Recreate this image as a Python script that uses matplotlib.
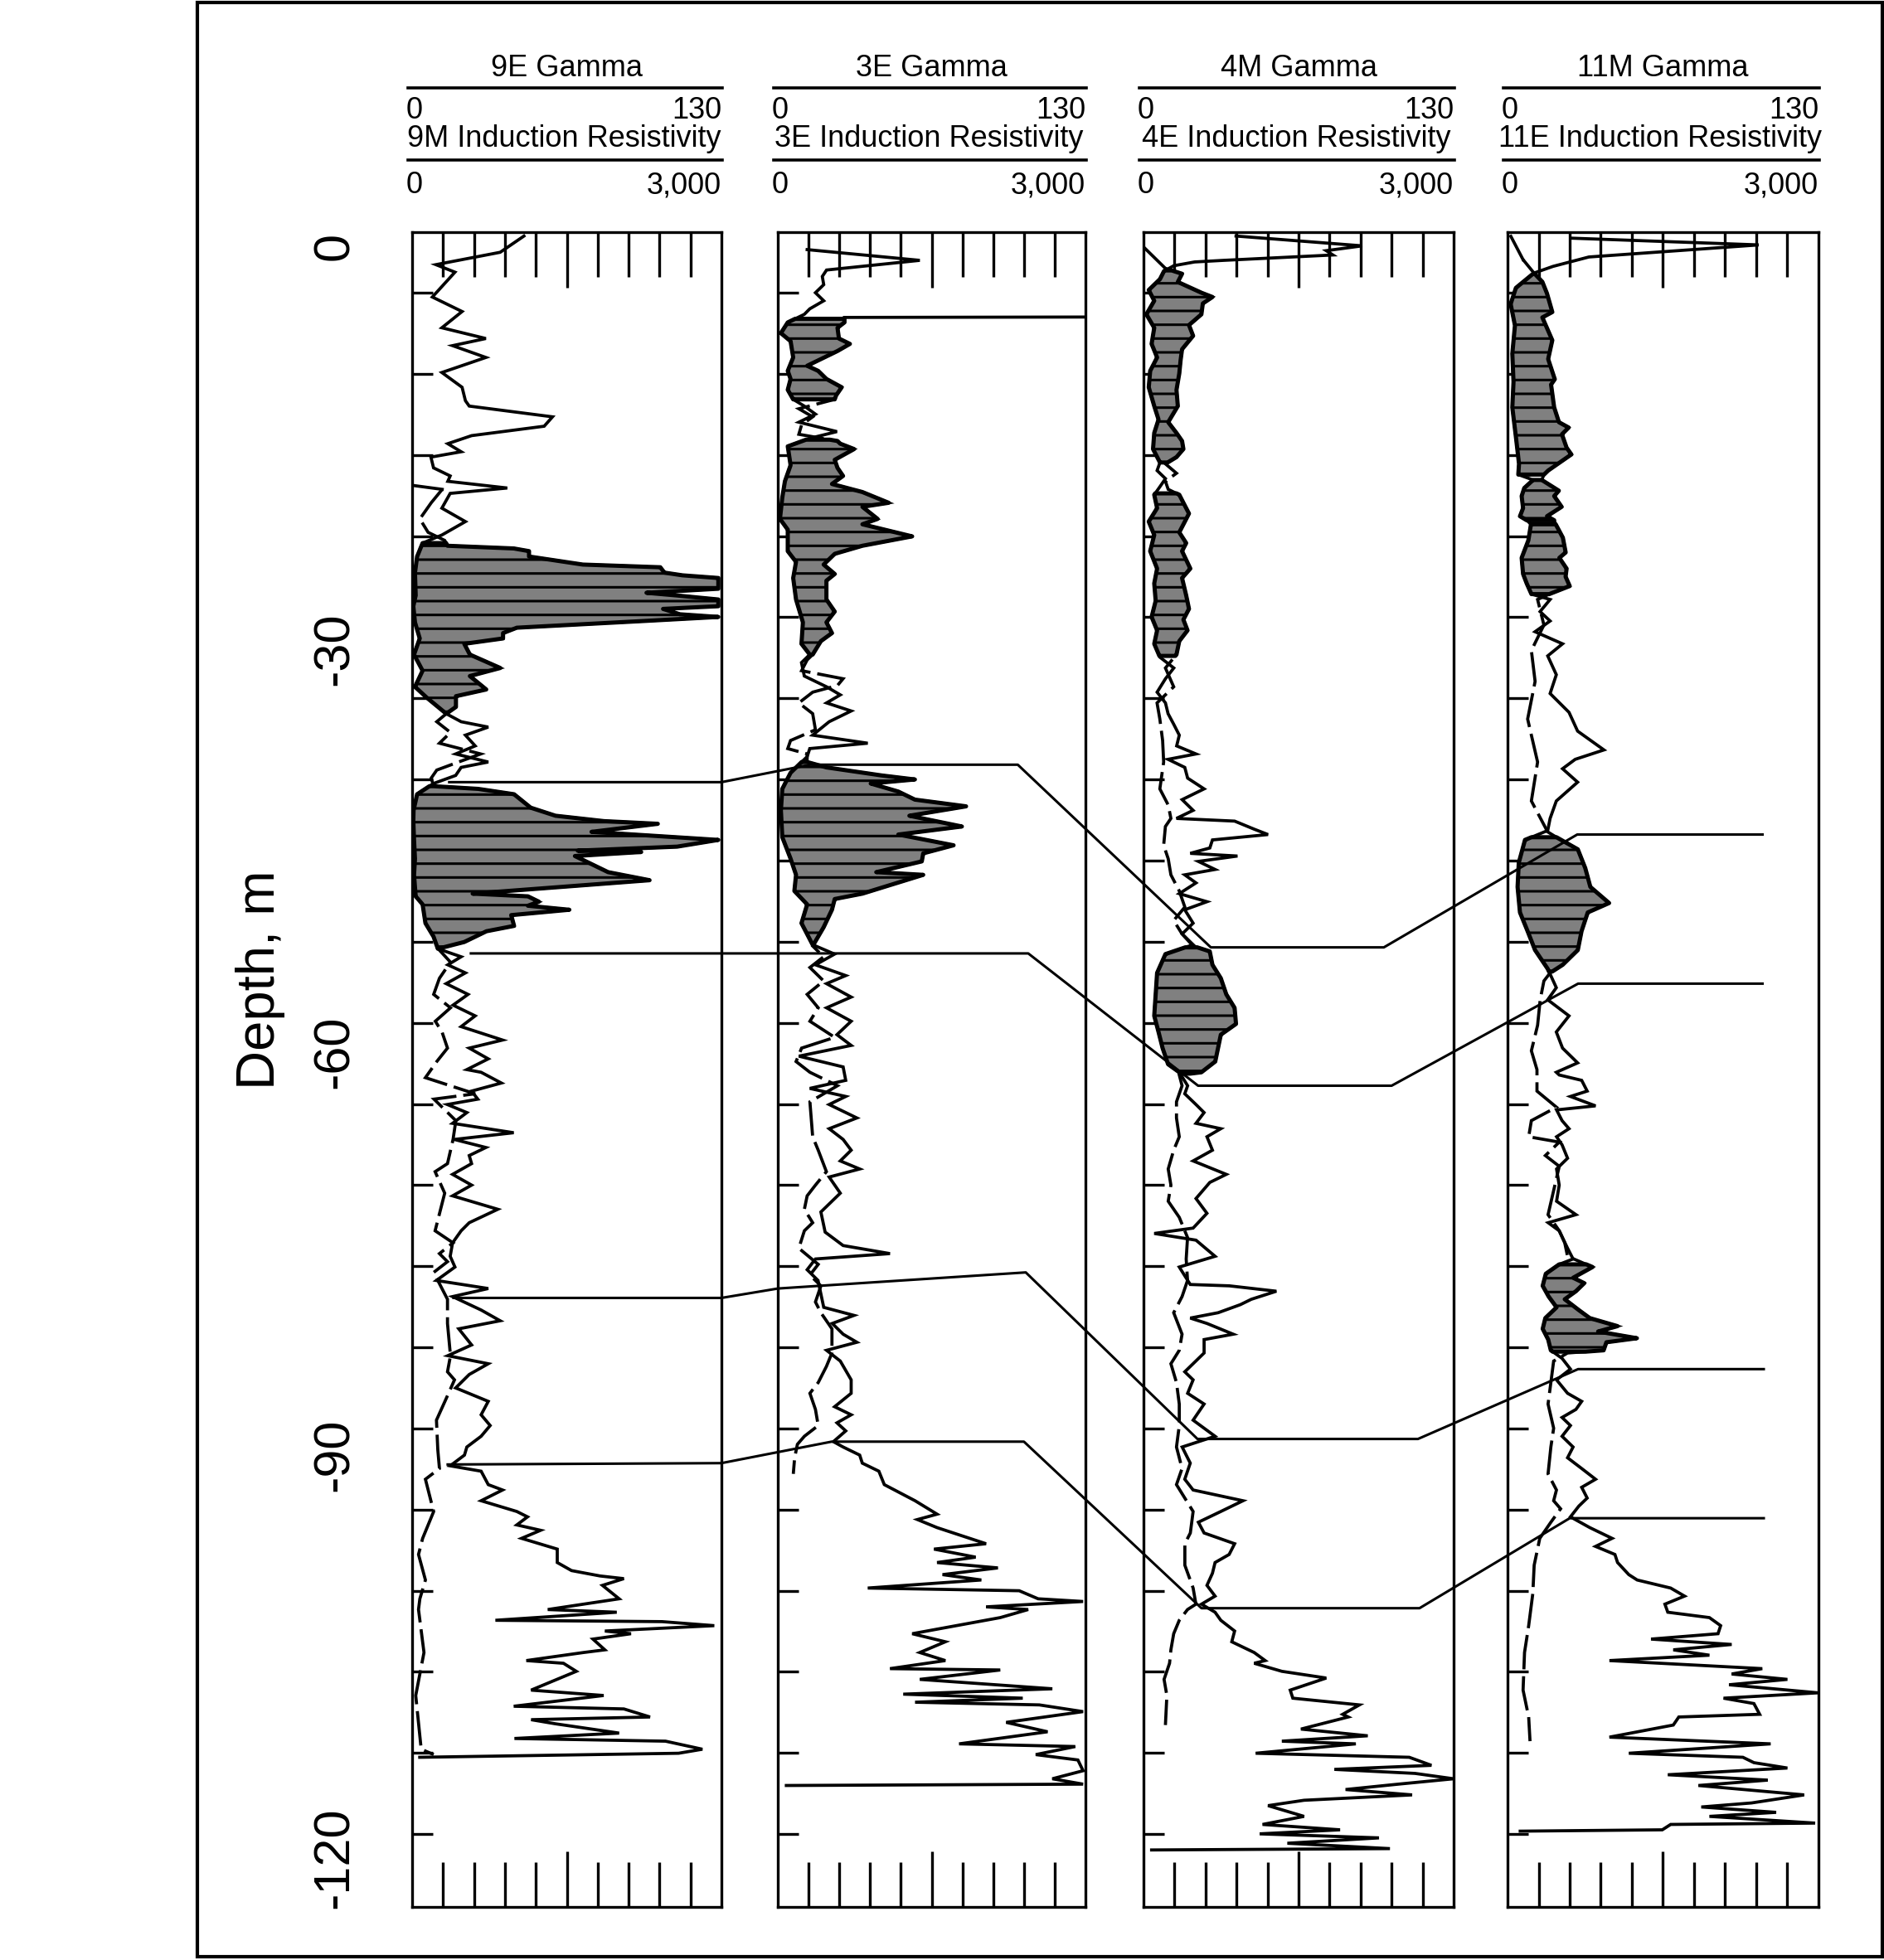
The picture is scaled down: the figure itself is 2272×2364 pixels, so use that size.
import numpy as np
import matplotlib
matplotlib.use('Agg')
import matplotlib.pyplot as plt
from matplotlib.lines import Line2D
from matplotlib.patches import Rectangle
from matplotlib.transforms import blended_transform_factory

plt.rcParams['font.family'] = ['Liberation Sans', 'DejaVu Sans']
plt.rcParams['hatch.linewidth'] = 2.2
plt.rcParams['lines.scale_dashes'] = False

# well names and log scales
gamma_wells = ['9E', '3E', '4M', '11M']
res_wells = ['9M', '3E', '4E', '11E']
gamma_max = 130      # API
res_max = 3000       # ohm-m
depth_labels = [0, -30, -60, -90, -120]

# (depth m, gamma API)
p1_gamma = [(0.76, 47), (-0.45, 37), (-1.37, 10), (-1.93, 18), (-3.78, 8.5), (-4.86, 21), (-6.07, 12.5),
            (-6.87, 31), (-7.4, 17), (-8.28, 31), (-9.4, 12.5), (-10.5, 21), (-11.5, 22.4), (-11.9, 24),
            (-12.7, 59), (-13.4, 55.5), (-14.1, 25), (-14.7, 15), (-15.3, 20.6), (-15.7, 7.9), (-16.5, 9),
            (-17.1, 16), (-17.5, 15), (-18.0, 40), (-18.4, 16), (-19.5, 12.5), (-20.5, 22.4), (-21.5, 12.5),
            (-22.1, 4.4), (-23.1, 2.1), (-24.3, 1.2), (-26.0, 1.5), (-26.8, 0.5), (-28.0, 1.2), (-29.2, 3.2),
            (-30.4, 0.8), (-31.6, 4.4), (-32.8, 1.2), (-33.6, 6.1), (-34.2, 10.2), (-34.8, 14.3), (-35.4, 20.6),
            (-35.8, 32), (-36.4, 22.4), (-37.2, 26.5), (-37.8, 18.3), (-38.4, 32), (-38.8, 20.6), (-39.4, 18.3),
            (-40.0, 9), (-40.8, 2.1), (-42.0, 0.6), (-42.8, 0.5), (-44.2, 0.8), (-45.6, 1.2), (-46.8, 0.8),
            (-48.4, 1.5), (-49.0, 4.4), (-50.4, 5.6), (-51.4, 9), (-52.3, 10.8), (-52.9, 20.6), (-53.5, 15),
            (-54.1, 22.4), (-54.9, 14.3), (-55.7, 23.5), (-56.5, 17.2), (-57.3, 26.5), (-58.1, 20.6), (-59.1, 38),
            (-59.7, 24), (-60.5, 32), (-61.3, 23), (-61.5, 29), (-62.3, 37.5), (-62.9, 25), (-63.5, 27.6),
            (-63.9, 14.8), (-64.5, 23), (-65.3, 17), (-66.0, 42.7), (-66.5, 17.7), (-67.1, 31), (-67.7, 24),
            (-68.3, 25), (-69.1, 17), (-69.9, 25), (-70.7, 17), (-71.7, 36), (-72.7, 24), (-73.3, 20.6),
            (-74.2, 17), (-75.2, 16), (-76.0, 18), (-77.0, 10.2), (-77.6, 32), (-78.2, 17), (-79.2, 29),
            (-80.0, 37), (-80.6, 19.6), (-81.8, 25), (-82.6, 15), (-83.2, 32), (-84.0, 24), (-85.0, 18.3),
            (-86.0, 32), (-87.0, 29), (-87.8, 32.8), (-88.6, 29), (-89.4, 23), (-90.0, 22), (-90.8, 16),
            (-91.2, 29), (-92.2, 32), (-92.6, 38), (-93.4, 29), (-94.2, 44), (-94.6, 48.5), (-95.2, 44),
            (-95.6, 54), (-96.2, 46), (-97.0, 61), (-98.0, 61), (-98.6, 67), (-99.0, 79), (-99.2, 89),
            (-99.7, 80), (-100.7, 87), (-101.5, 57), (-101.7, 86), (-102.3, 35), (-102.4, 105), (-102.7, 127),
            (-103.1, 81), (-103.3, 92), (-103.7, 76), (-104.5, 81), (-104.7, 72), (-105.3, 48), (-105.5, 63.6),
            (-106.1, 69), (-107.5, 50), (-107.9, 80.5), (-108.7, 42.7), (-108.9, 89), (-109.5, 100),
            (-109.7, 50), (-110.0, 60), (-110.7, 87), (-111.1, 43), (-111.3, 106.5), (-111.9, 122),
            (-112.2, 112), (-112.5, 3.2)]

# (depth m, resistivity ohm-m)
p1_res = [(-17.8, 0), (-18.1, 292), (-19.1, 185), (-20.3, 75), (-21.3, 155), (-21.9, 316), (-22.3, 343),
          (-22.5, 986), (-22.7, 1134), (-23.1, 1134), (-23.7, 1656), (-23.9, 2407), (-24.3, 2447), (-24.5, 2622),
          (-24.7, 2970), (-25.5, 2970), (-25.8, 2273), (-26.0, 2568), (-26.3, 2970), (-26.8, 2970), (-27.0, 2434),
          (-27.4, 2597), (-27.6, 2970), (-27.9, 2249), (-28.4, 1016), (-28.8, 882), (-29.2, 882), (-29.6, 506),
          (-30.4, 560), (-31.4, 855), (-32.0, 560), (-33.0, 719), (-33.5, 425), (-34.3, 425), (-34.8, 332),
          (-35.4, 239), (-36.2, 372), (-37.0, 265), (-37.8, 665), (-38.4, 450), (-39.0, 239), (-39.6, 185),
          (-40.2, 209), (-40.4, 641), (-40.8, 989), (-41.8, 1150), (-42.4, 1391), (-42.8, 1860), (-43.0, 2383),
          (-43.6, 1740), (-44.2, 2970), (-44.7, 2571), (-45.0, 1606), (-45.1, 2222), (-45.4, 1579), (-46.6, 1901),
          (-47.2, 2303), (-48.2, 587), (-48.4, 1123), (-48.8, 1230), (-49.1, 1123), (-49.4, 1525), (-49.8, 961),
          (-50.6, 989), (-51.0, 721), (-51.8, 506), (-52.3, 252), (-53.3, 372), (-54.5, 265), (-55.7, 209),
          (-56.7, 372), (-57.7, 225), (-58.5, 290), (-59.7, 343), (-60.7, 239), (-61.9, 129), (-63.1, 611),
          (-63.5, 212), (-65.1, 424), (-66.5, 397), (-68.3, 343), (-68.9, 223), (-70.5, 316), (-73.3, 223),
          (-74.2, 397), (-75.0, 265), (-75.6, 343), (-76.4, 209), (-78.4, 343), (-80.2, 343), (-82.6, 372),
          (-83.8, 343), (-84.4, 411), (-85.8, 330), (-87.4, 236), (-89.6, 249), (-91.0, 265), (-91.8, 129),
          (-93.4, 182), (-94.2, 209), (-96.2, 102), (-97.4, 62), (-99.3, 129), (-100.7, 75), (-101.5, 62),
          (-104.7, 115), (-106.3, 75), (-107.9, 35), (-111.9, 88), (-112.3, 209)]

p2_gamma = [(-0.25, 12.4), (-1.05, 60), (-1.77, 20.6), (-2.25, 18.8), (-2.86, 19.4), (-3.46, 15.9), (-4.06, 19.4),
            (-4.66, 13.5), (-5.07, 11.2), (-5.67, 4.2), (-6.47, 1.3), (-7.07, 5.4), (-8.28, 6.5), (-9.28, 4.2),
            (-9.88, 5.4), (-10.69, 4.2), (-11.4, 6.5), (-11.9, 11.2), (-12.5, 15.9), (-13.1, 8.9), (-13.8, 25),
            (-14.3, 13.5), (-14.9, 4.2), (-16.3, 5.4), (-17.5, 3.0), (-18.7, 1.9), (-20.3, 0.9), (-21.1, 4.2),
            (-22.7, 4.2), (-23.5, 7.7), (-24.7, 6.5), (-26.3, 7.7), (-28.0, 10.6), (-29.6, 10), (-30.4, 13.5),
            (-31.0, 10), (-32.0, 11.2), (-32.8, 20.6), (-33.4, 26.4), (-34.0, 20.6), (-34.6, 31), (-35.4, 21.7),
            (-36.4, 14.7), (-37.0, 38), (-37.4, 13.5), (-38.0, 12.4), (-39.2, 5.4), (-40.4, 1.9), (-42.0, 1.3),
            (-44.0, 1.9), (-45.6, 5.4), (-46.8, 7.7), (-48.0, 7), (-49.0, 12.4), (-50.4, 10), (-52.0, 14.7),
            (-52.7, 24), (-53.5, 15.9), (-54.3, 28.7), (-54.9, 20.6), (-55.9, 31), (-56.7, 20.6), (-57.7, 31),
            (-58.7, 25), (-59.5, 31), (-60.3, 8.9), (-61.1, 27.6), (-62.1, 28.7), (-62.7, 13.5), (-63.3, 28.7),
            (-63.9, 21.7), (-64.9, 33.4), (-65.7, 21.7), (-66.5, 27.6), (-67.3, 31), (-68.1, 26.4), (-68.7, 34.6),
            (-69.3, 21.7), (-70.5, 26.4), (-71.9, 18.2), (-73.4, 20), (-74.4, 27.6), (-75.0, 47.4), (-75.4, 15.9),
            (-76.2, 12.4), (-77.0, 17), (-78.0, 18.2), (-79.0, 19.4), (-79.6, 32.2), (-80.2, 23), (-81.0, 27.6),
            (-81.6, 33.4), (-82.2, 20.6), (-83.0, 26.4), (-84.4, 31), (-85.4, 31), (-86.4, 24), (-87.0, 31),
            (-87.6, 25), (-88.2, 28.7), (-89.0, 23.5), (-89.4, 27.6), (-90.0, 34.6), (-90.6, 35.7), (-91.2, 42.7),
            (-92.2, 45), (-93.4, 58), (-94.4, 67.3), (-94.8, 59), (-95.4, 67.3), (-96.6, 88), (-97.0, 66),
            (-97.6, 83.6), (-98.0, 67.3), (-98.4, 93), (-98.9, 69.6), (-99.3, 86), (-99.9, 38), (-100.1, 102),
            (-100.7, 110), (-100.9, 129), (-101.3, 88), (-101.5, 105.8), (-102.1, 94), (-103.3, 56.8),
            (-103.9, 70.8), (-104.7, 60), (-105.3, 70.8), (-105.9, 47.4), (-106.0, 94), (-106.7, 60),
            (-107.4, 116), (-107.8, 53), (-108.1, 103.5), (-108.4, 58), (-108.6, 110.5), (-109.1, 129),
            (-109.9, 96.5), (-110.6, 114), (-111.5, 76.6), (-111.7, 125.7), (-112.3, 109), (-112.7, 126.8),
            (-113.5, 129), (-114.1, 116), (-114.5, 129), (-114.6, 3.6)]

p2_res = [(-5.27, 3000), (-5.30, 650), (-5.67, 650), (-6.07, 582), (-6.87, 596), (-7.27, 703), (-7.8, 582),
          (-8.9, 286), (-9.28, 394), (-9.88, 474), (-10.5, 623), (-11.1, 569), (-11.4, 555), (-12.1, 205),
          (-12.7, 340), (-13.3, 232), (-14.0, 205), (-14.5, 582), (-14.7, 609), (-15.1, 744), (-15.9, 555),
          (-16.5, 582), (-17.1, 636), (-17.7, 528), (-18.3, 825), (-19.1, 1081), (-19.4, 825), (-20.3, 973),
          (-20.7, 825), (-21.6, 1310), (-22.3, 825), (-22.9, 555), (-23.7, 447), (-24.4, 555), (-24.9, 474),
          (-26.3, 474), (-27.2, 555), (-28.0, 474), (-28.8, 528), (-29.4, 420), (-30.4, 340), (-30.8, 286),
          (-31.6, 232), (-32.2, 636), (-32.7, 582), (-33.2, 340), (-34.0, 205), (-34.8, 340), (-36.0, 367),
          (-36.8, 124), (-37.4, 97), (-37.8, 286), (-38.4, 286), (-38.8, 474), (-39.4, 1013), (-39.7, 1337),
          (-40.0, 906), (-40.6, 1175), (-41.2, 1337), (-41.7, 1836), (-42.4, 1283), (-43.2, 1795), (-43.8, 1175),
          (-44.6, 1714), (-45.2, 1418), (-45.8, 1404), (-46.6, 960), (-46.8, 1418), (-48.2, 825), (-48.6, 555),
          (-49.4, 528), (-50.7, 447), (-52.1, 340), (-52.9, 447), (-53.7, 313), (-54.7, 447), (-55.7, 286),
          (-56.7, 394), (-57.7, 313), (-58.9, 555), (-59.7, 232), (-60.7, 178), (-61.5, 313), (-62.5, 582),
          (-63.7, 313), (-66.3, 340), (-67.3, 394), (-68.9, 474), (-69.9, 367), (-70.7, 286), (-71.7, 259),
          (-72.7, 340), (-73.3, 259), (-74.6, 205), (-75.8, 394), (-76.6, 313), (-77.4, 420), (-78.6, 367),
          (-79.4, 420), (-80.6, 528), (-82.4, 528), (-83.4, 474), (-84.6, 394), (-85.4, 313), (-86.6, 367),
          (-87.8, 394), (-88.6, 259), (-89.2, 191), (-90.2, 164), (-91.4, 151)]

p3_gamma = [(0.76, 38.8), (0.03, 91.7), (-0.33, 76.6), (-0.65, 79.4), (-1.05, 33.6), (-1.17, 21.4), (-1.45, 12.7),
            (-1.85, 8.6), (-2.45, 6.9), (-3.26, 2.2), (-4.06, 4.5), (-5.07, 1.2), (-6.07, 4.5), (-7.27, 3.4),
            (-8.28, 5.7), (-9.28, 2.8), (-10.5, 2.2), (-11.9, 4.5), (-12.9, 6.3), (-13.9, 4.5), (-15.1, 4.0),
            (-16.1, 6.9), (-16.7, 5.7), (-17.3, 9.2), (-17.9, 6.9), (-18.5, 4.5), (-19.5, 5.7), (-20.5, 2.2),
            (-21.5, 4.5), (-22.7, 2.8), (-24.0, 5.7), (-25.1, 4.5), (-26.4, 5.1), (-27.6, 3.4), (-28.6, 5.7),
            (-29.6, 4.5), (-30.6, 6.9), (-31.4, 12.7), (-32.2, 9.2), (-33.2, 5.7), (-34.0, 9.2), (-34.8, 10.3),
            (-35.6, 12.7), (-36.4, 15), (-37.2, 13.9), (-37.8, 22), (-38.2, 10.3), (-38.8, 17.3), (-39.6, 18.5),
            (-40.4, 25.4), (-41.2, 16.2), (-42.0, 20.8), (-42.6, 13.8), (-42.8, 38.2), (-43.4, 46.4), (-43.8, 52.2),
            (-44.2, 28.9), (-44.8, 27.8), (-45.2, 19.6), (-45.4, 39.4), (-45.8, 23), (-46.4, 30), (-46.8, 17.3),
            (-47.4, 22), (-48.2, 15), (-48.8, 26.6), (-49.4, 17.3), (-50.4, 20.8), (-51.2, 16.2), (-52.0, 20.8),
            (-52.7, 9.2), (-54.1, 5.7), (-55.7, 5.1), (-57.3, 4.5), (-58.5, 6.3), (-59.7, 8), (-60.9, 10.3),
            (-61.5, 15), (-62.5, 18.5), (-63.1, 17.3), (-63.9, 22), (-64.5, 25.4), (-65.3, 22), (-65.7, 32.4),
            (-66.3, 26.6), (-67.3, 28.9), (-68.1, 20.8), (-69.1, 34.7), (-69.7, 27.8), (-70.9, 22), (-72.0, 26.6),
            (-73.1, 20.8), (-73.5, 4.5), (-74.0, 22), (-75.2, 30), (-76.0, 15), (-77.3, 19.6), (-77.4, 36),
            (-77.8, 55.7), (-78.4, 45.2), (-78.8, 40.6), (-79.4, 31.3), (-79.8, 19.6), (-80.2, 26.6), (-81.0, 37.6),
            (-81.4, 25.4), (-82.4, 25.4), (-83.2, 20.8), (-83.8, 17.3), (-84.4, 20.8), (-85.4, 18.5), (-86.2, 25.4),
            (-87.4, 20.8), (-88.6, 30), (-89.4, 16.2), (-90.6, 19.6), (-91.8, 17.3), (-92.6, 20.8), (-93.4, 41.7),
            (-94.2, 32.4), (-95.0, 23), (-95.8, 25.4), (-96.6, 38.2), (-97.4, 35.9), (-98.0, 30), (-98.8, 28.9),
            (-99.7, 26.6), (-100.5, 30), (-101.1, 24.3), (-101.7, 30), (-102.3, 32.4), (-103.1, 38.2), (-103.9, 37),
            (-104.7, 46.4), (-105.3, 51), (-105.5, 46.4), (-106.1, 58), (-106.6, 76.6), (-107.5, 61.5),
            (-108.1, 62.6), (-108.6, 90.5), (-109.3, 83.5), (-109.5, 85.8), (-110.4, 66), (-110.9, 94),
            (-111.3, 58), (-111.5, 89), (-112.2, 47), (-112.5, 111.4), (-113.1, 120.7), (-113.4, 80),
            (-113.7, 113.8), (-114.1, 130), (-114.5, 106.8), (-114.9, 84.7), (-115.3, 112.6), (-115.7, 67.3),
            (-116.1, 52.2), (-116.9, 67.3), (-117.5, 49.9), (-117.9, 82.4), (-118.2, 48.7), (-118.5, 98.7),
            (-118.9, 60.3), (-119.3, 103.3), (-119.4, 3.4)]

p3_res = [(-0.05, 0), (-1.65, 212), (-2.05, 373), (-2.66, 332), (-3.46, 560), (-3.78, 667), (-4.26, 574),
          (-5.07, 560), (-5.87, 440), (-6.67, 480), (-7.67, 373), (-8.48, 359), (-9.48, 346), (-10.7, 319),
          (-11.9, 332), (-13.1, 239), (-13.9, 319), (-14.5, 373), (-15.1, 386), (-15.7, 319), (-16.2, 212),
          (-16.9, 319), (-17.5, 212), (-18.1, 239), (-18.5, 346), (-19.1, 386), (-19.9, 440), (-20.5, 400),
          (-21.3, 346), (-22.1, 413), (-22.7, 373), (-24.0, 453), (-24.7, 373), (-26.0, 413), (-27.0, 440),
          (-27.8, 386), (-28.6, 426), (-29.4, 346), (-30.4, 319), (-31.4, 212), (-32.8, 292), (-34.0, 131),
          (-35.2, 158), (-36.8, 185), (-38.4, 195), (-40.4, 158), (-41.6, 239), (-42.6, 265), (-43.2, 212),
          (-44.6, 195), (-45.6, 239), (-46.8, 265), (-48.0, 346), (-49.2, 400), (-50.2, 292), (-51.2, 373),
          (-52.1, 480), (-52.5, 641), (-53.5, 667), (-54.5, 748), (-55.7, 801), (-56.7, 881), (-57.9, 895),
          (-58.7, 748), (-59.7, 721), (-60.7, 694), (-61.5, 560), (-61.7, 346), (-62.5, 373), (-63.7, 319),
          (-64.9, 319), (-66.3, 346), (-67.3, 292), (-68.7, 239), (-69.9, 265), (-71.1, 239), (-72.3, 346),
          (-73.8, 426), (-75.4, 413), (-77.0, 426), (-78.2, 373), (-79.4, 292), (-81.0, 373), (-82.2, 346),
          (-83.2, 265), (-84.6, 319), (-86.2, 346), (-87.8, 346), (-89.4, 319), (-91.0, 373), (-92.2, 319),
          (-94.2, 480), (-95.8, 453), (-96.6, 400), (-98.2, 400), (-99.9, 480), (-101.1, 507), (-101.5, 426),
          (-102.3, 346), (-103.3, 292), (-104.5, 265), (-105.5, 252), (-106.7, 199), (-107.9, 226), (-110.1, 212)]

p4_gamma = [(0.6, 27), (0.1, 105), (-0.8, 34), (-1.5, 19), (-2.0, 11), (-3.1, 3.5), (-4.3, 1.3), (-5.9, 3.1),
            (-8.0, 2.0), (-10.1, 2.5), (-12.0, 2.0), (-14.2, 3.5), (-16.2, 4.8), (-17.0, 4.5), (-17.4, 10.7),
            (-18.0, 7), (-18.6, 5.9), (-19.5, 6.5), (-20.1, 5.2), (-20.4, 8), (-20.7, 9.8), (-21.9, 8.7),
            (-23.2, 5.9), (-24.4, 6.5), (-25.1, 8), (-25.9, 10), (-26.3, 17.8), (-27.2, 13.6), (-27.9, 17.8),
            (-28.7, 11.5), (-29.6, 23), (-30.5, 16.8), (-31.9, 20.4), (-33.3, 17.8), (-34.7, 25.7), (-36.1, 29.3),
            (-37.5, 40.3), (-38.2, 28.3), (-38.9, 23), (-39.9, 29.3), (-41.3, 20.4), (-42.6, 17.8), (-43.5, 16.8),
            (-44.2, 7.3), (-45.9, 4.7), (-47.7, 4.2), (-49.6, 5.2), (-51.0, 8.4), (-52.4, 11.5), (-53.8, 16.8),
            (-55.2, 20.4), (-56.1, 16.8), (-57.3, 25.7), (-58.5, 20.4), (-59.7, 23), (-60.8, 29.3), (-61.5, 20.4),
            (-61.7, 21.6), (-62.1, 31), (-62.9, 33.3), (-63.3, 26.3), (-64.0, 36.8), (-64.3, 20.5), (-65.1, 22.8),
            (-65.7, 25.7), (-66.3, 20.5), (-66.9, 22.8), (-67.9, 25.1), (-68.7, 20.5), (-69.9, 21.6), (-71.1, 20.5),
            (-72.1, 28.6), (-72.7, 17), (-73.3, 21.6), (-74.6, 25.1), (-75.4, 27.4), (-75.8, 21.6), (-76.5, 16),
            (-77.4, 14.7), (-78.2, 17.2), (-79.0, 20.5), (-79.8, 15.8), (-80.6, 14.7), (-81.4, 17), (-82.2, 18.1),
            (-82.8, 22.8), (-83.6, 26.3), (-84.4, 20.5), (-85.4, 25.1), (-86.0, 31), (-86.6, 28.6), (-87.2, 22.8),
            (-87.8, 26.3), (-88.6, 22.8), (-89.4, 27.4), (-90.2, 25.1), (-91.0, 31), (-91.8, 36.8), (-92.4, 31),
            (-93.2, 33.3), (-93.8, 29.8), (-94.6, 26.3), (-95.4, 34.4), (-96.2, 43.7), (-96.8, 36.8), (-97.4, 44.9),
            (-98.0, 46), (-98.9, 50.7), (-99.3, 54.2), (-99.9, 68.2), (-100.5, 74), (-101.1, 65.8), (-101.7, 67),
            (-102.1, 84.4), (-102.7, 89.1), (-103.3, 88), (-103.7, 60), (-104.1, 93.7), (-104.5, 69.3),
            (-104.9, 84.4), (-105.3, 42.6), (-105.9, 106.5), (-106.3, 93.7), (-106.7, 117), (-107.1, 92.6),
            (-107.7, 129.8), (-108.1, 90.3), (-108.5, 103), (-109.3, 105.4), (-109.5, 71.6), (-110.1, 69.3),
            (-111.0, 42.6), (-111.5, 110), (-112.2, 50.7), (-112.5, 98.4), (-112.9, 103), (-113.3, 117),
            (-113.8, 67), (-114.2, 108.8), (-114.6, 79.8), (-115.3, 124), (-115.9, 102), (-116.2, 81),
            (-116.6, 112.3), (-116.9, 84.4), (-117.4, 128.6), (-117.5, 68.2), (-117.9, 64.7), (-118.0, 5.3)]

p4_res = [(0.74, 32), (-1.0, 150), (-2.0, 256), (-2.65, 336), (-3.5, 380), (-4.9, 432), (-5.3, 336), (-7.0, 432),
          (-8.4, 392), (-9.9, 456), (-10.3, 420), (-12.0, 450), (-13.1, 496), (-13.5, 590), (-14.0, 525),
          (-15.0, 570), (-15.5, 616), (-16.7, 392), (-17.0, 352), (-17.4, 330), (-18.2, 495), (-18.6, 450),
          (-19.4, 522), (-20.1, 381), (-20.4, 450), (-20.7, 465), (-21.7, 534), (-22.8, 561), (-23.2, 500),
          (-24.0, 570), (-24.6, 560), (-25.3, 600), (-25.9, 402), (-26.3, 290), (-28.2, 351), (-30.1, 230),
          (-32.4, 266), (-35.2, 194), (-38.4, 290), (-41.3, 230), (-43.6, 387), (-44.0, 472), (-44.9, 678),
          (-46.3, 750), (-47.7, 799), (-48.9, 980), (-49.6, 774), (-51.0, 714), (-52.4, 678), (-53.5, 532),
          (-54.1, 411), (-54.7, 351), (-56.1, 315), (-58.0, 290), (-59.9, 230), (-61.3, 284), (-62.9, 284),
          (-64.1, 472), (-65.1, 230), (-66.3, 204), (-66.7, 499), (-67.7, 365), (-68.5, 499), (-72.1, 391),
          (-73.3, 499), (-74.2, 552), (-75.2, 579), (-76.0, 820), (-76.8, 633), (-77.2, 740), (-77.8, 660),
          (-78.4, 552), (-79.2, 687), (-79.8, 793), (-80.4, 1061), (-80.8, 874), (-81.3, 1248), (-81.6, 954),
          (-82.2, 927), (-82.4, 579), (-83.0, 445), (-84.6, 418), (-86.2, 391), (-88.0, 445), (-89.4, 418),
          (-91.4, 391), (-92.6, 472), (-93.4, 445), (-94.0, 512), (-95.0, 418), (-96.2, 311), (-98.2, 257),
          (-100.3, 244), (-102.7, 204), (-104.7, 164), (-107.5, 150), (-109.5, 204), (-111.3, 217)]

# sand intervals (top, bottom) shaded between the two logs
p1_sands = [(-22.1, -34.8), (-40.2, -52.3)]
p2_sands = [(-5.4, -11.4), (-14.4, -30.4), (-38.4, -52.0)]
p3_sands = [(-1.8, -16.1), (-18.4, -30.5), (-52.2, -61.6)]
p4_sands = [(-2.0, -17.0), (-17.4, -20.4), (-20.7, -25.9), (-44.0, -54.0), (-75.8, -82.3)]

# correlation surfaces: (panel, fraction across panel, depth m)
corr_a = [(0, 0.12, -39.9), (0, 1.0, -39.9), (1, 0.105, -38.6), (1, 0.78, -38.6),
          (2, 0.217, -52.2), (2, 0.775, -52.2), (3, 0.224, -43.8), (3, 0.82, -43.8)]
corr_b = [(0, 0.19, -52.65), (1, 0.814, -52.65), (2, 0.176, -62.5), (2, 0.80, -62.5),
          (3, 0.227, -54.9), (3, 0.82, -54.9)]
corr_c = [(0, 0.134, -78.3), (0, 1.0, -78.3), (1, 0.0, -77.6), (1, 0.806, -76.4),
          (2, 0.174, -88.8), (2, 0.885, -88.8), (3, 0.227, -83.6), (3, 0.824, -83.6)]
corr_d = [(0, 0.115, -90.7), (0, 1.0, -90.6), (1, 0.175, -89.0), (1, 0.80, -89.0),
          (2, 0.187, -101.4), (2, 0.89, -101.4), (3, 0.2, -94.7), (3, 0.824, -94.7)]

gammas = [p1_gamma, p2_gamma, p3_gamma, p4_gamma]
ress = [p1_res, p2_res, p3_res, p4_res]
sands = [p1_sands, p2_sands, p3_sands, p4_sands]

# ---- layout (pixels of the 2272 x 2364 output)
W, H = 2272, 2364
lefts = [497, 938, 1379, 1818]
rights = [870, 1309, 1753, 2193]
top_px, bot_px = 280, 2300
y0_px, px_per_m = 297, 16.2
ymax = (y0_px - top_px) / px_per_m
ymin = -(bot_px - y0_px) / px_per_m

fig = plt.figure(figsize=(W / 100, H / 100), dpi=100)
fig.add_artist(Rectangle((238 / W, 1 - 2360 / H), (2270 - 238) / W, (2360 - 3) / H,
                         transform=fig.transFigure, fill=False, lw=3, ec='black'))

axes = []
for i in range(4):
    L, R = lefts[i], rights[i]
    ax = fig.add_axes([L / W, 1 - bot_px / H, (R - L) / W, (bot_px - top_px) / H])
    axes.append(ax)
    ax.set_xlim(0, gamma_max)
    ax.set_ylim(ymin, ymax)

    g = np.array(gammas[i], dtype=float)
    r = np.array(ress[i], dtype=float)
    r_sc = r[:, 1] * gamma_max / res_max

    ax.plot(g[:, 1], g[:, 0], color='black', lw=2.7, solid_joinstyle='miter', zorder=2)
    # first reading of the resistivity log is drawn solid, the rest dashed
    ax.plot(r_sc[:2], r[:2, 0], color='black', lw=2.7, zorder=2)
    ax.plot(r_sc[1:], r[1:, 0], color='black', lw=2.7, dashes=(30, 6), dash_joinstyle='miter', zorder=2)

    for top, bot in sands[i]:
        dg = g[:, 0][(g[:, 0] <= top) & (g[:, 0] >= bot)]
        dr = r[:, 0][(r[:, 0] <= top) & (r[:, 0] >= bot)]
        d = np.unique(np.concatenate([np.linspace(bot, top, 300), dg, dr]))
        gi = np.interp(-d, -g[:, 0], g[:, 1])
        ri = np.interp(-d, -r[:, 0], r_sc)
        ax.fill_betweenx(d, gi, ri, facecolor='#808080', edgecolor='black', hatch='-',
                         linewidth=3.6, zorder=3)

    for s in ax.spines.values():
        s.set_linewidth(2.4)

    # scale ticks along top and bottom
    ax.set_xticks([gamma_max / 2])
    ax.set_xticks([gamma_max * k / 10 for k in (1, 2, 3, 4, 6, 7, 8, 9)], minor=True)
    ax.tick_params(axis='x', which='both', direction='in', top=True, bottom=True,
                   labelbottom=False, labeltop=False, width=2.4)
    ax.tick_params(axis='x', which='major', length=48)
    ax.tick_params(axis='x', which='minor', length=39)

    # depth ticks every 20 ft on the left
    if i == 0:
        ax.set_yticks(depth_labels)
        ax.set_yticklabels([str(v) for v in depth_labels], rotation=90, va='center', fontsize=44)
        ax.tick_params(axis='y', which='major', length=0, pad=46)
    else:
        ax.set_yticks([])
    ax.set_yticks(np.arange(-3.46, -119, -6.04), minor=True)
    ax.tick_params(axis='y', which='minor', direction='in', length=18, width=2.4,
                   left=True, right=False)

    # header
    cx = (L + R) / 2
    fig.text(cx / W, 1 - 92 / H, f'{gamma_wells[i]} Gamma', ha='center', va='baseline', fontsize=26)
    fig.add_artist(Line2D([(L - 5) / W, (R + 1) / W], [1 - 106 / H] * 2, color='black', lw=2.6))
    fig.text((L - 7) / W, 1 - 143 / H, '0', ha='left', va='baseline', fontsize=26)
    fig.text(R / W, 1 - 143 / H, f'{gamma_max}', ha='right', va='baseline', fontsize=26)
    fig.text((cx - 3) / W, 1 - 177 / H, f'{res_wells[i]} Induction Resistivity',
             ha='center', va='baseline', fontsize=26)
    fig.add_artist(Line2D([(L - 5) / W, (R + 1) / W], [1 - 193 / H] * 2, color='black', lw=2.6))
    fig.text((L - 7) / W, 1 - 233 / H, '0', ha='left', va='baseline', fontsize=26)
    fig.text(R / W, 1 - 233 / H, f'{res_max:,}', ha='right', va='baseline', fontsize=26)

fig.text(314 / W, 0.5, 'Depth, m', rotation=90, ha='center', va='center', fontsize=47)

# correlation lines drawn across the panels
to_fig = fig.transFigure.inverted()
for corr in [corr_a, corr_b, corr_c, corr_d]:
    pts = []
    for p, f, d in corr:
        tr = blended_transform_factory(axes[p].transAxes, axes[p].transData)
        pts.append(to_fig.transform(tr.transform((f, d))))
    pts = np.array(pts)
    fig.add_artist(Line2D(pts[:, 0], pts[:, 1], color='black', lw=2.2, zorder=6))

fig.savefig('out.png', dpi=100)
